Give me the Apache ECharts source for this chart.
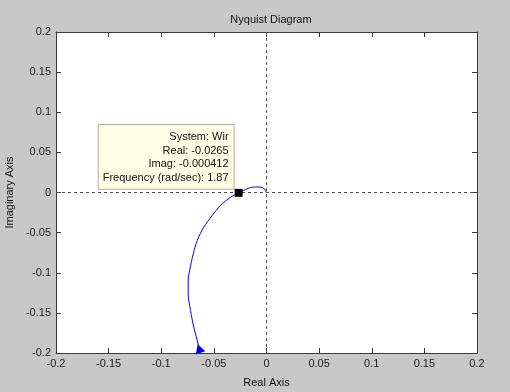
<!DOCTYPE html>
<html><head><meta charset="utf-8">
<script src="https://cdn.jsdelivr.net/npm/echarts@6/dist/echarts.min.js"></script>
<style>html,body{margin:0;padding:0;background:#c8c8c8;}#c{width:510px;height:392px;}</style>
</head><body><div id="c"></div>
<script>
var realVals = [0.0000, -0.0029, -0.0076, -0.0136, -0.0200, -0.0265, -0.0342, -0.0437, -0.0516, -0.0596, -0.0658, -0.0696, -0.0729, -0.0744, -0.0744, -0.0722, -0.0691, -0.0658, -0.0643, -0.0632];
var imagVals = [0.0000, 0.0056, 0.0069, 0.0066, 0.0037, -0.000412, -0.0059, -0.0162, -0.0287, -0.0432, -0.0598, -0.0764, -0.0963, -0.1097, -0.1262, -0.1470, -0.1679, -0.1844, -0.1935, -0.2006];
var tipPoint = [-0.0265, -0.000412];
var tipLines = ['System: Wir', 'Real: -0.0265', 'Imag: -0.000412', 'Frequency (rad/sec): 1.87'];
var arrowPoint = [-0.0640, -0.1945];
var axisMin = -0.2, axisMax = 0.2, axisStep = 0.05;

var curve = realVals.map(function(r, i){ return [r, imagVals[i]]; });
var font = 'Liberation Sans, Arial, sans-serif';
var axisCol = '#3a3a3a';
function fmt(v){ return String(Math.round(v*100)/100); }

var chart = echarts.init(document.getElementById('c'), null, {renderer:'canvas'});
function mkAxis(pos, show, extra){
  var a = {
    type:'value', position:pos, min:axisMin, max:axisMax, interval:axisStep,
    axisLine:{show:true, onZero:false, lineStyle:{color:axisCol, width:1}},
    axisTick:{show:true, inside:true, length:5, lineStyle:{color:axisCol}},
    axisLabel:{show:show, color:'#202020', fontFamily:font, fontSize:11, margin:5, formatter:fmt},
    splitLine:{show:false}
  };
  for (var k in extra) a[k] = extra[k];
  return a;
}
chart.setOption({
  backgroundColor:'#c8c8c8',
  animation:false,
  title:{text:'Nyquist Diagram', left:266, top:9, textAlign:'center',
    textStyle:{fontFamily:font, fontSize:11, fontWeight:'normal', color:'#101010'}},
  grid:{left:56, right:33, top:32, bottom:39, show:true, backgroundColor:'#ffffff', borderWidth:0,
    containLabel:false, outerBoundsMode:'none'},
  xAxis:[
    mkAxis('bottom', true, {name:'Real Axis', nameLocation:'middle', nameGap:24,
      nameTextStyle:{fontFamily:font, fontSize:11, color:'#101010'}}),
    mkAxis('top', false, {})
  ],
  yAxis:[
    mkAxis('left', true, {name:'Imaginary Axis', nameLocation:'middle', nameGap:37,
      nameTextStyle:{fontFamily:font, fontSize:11, color:'#101010'}}),
    mkAxis('right', false, {})
  ],
  series:[
    {type:'line', xAxisIndex:0, yAxisIndex:0, data:curve, smooth:0.3, showSymbol:false,
     clip:true, lineStyle:{color:'#0000e6', width:1}, silent:true,
     markLine:{silent:true, symbol:['none','none'], label:{show:false},
       lineStyle:{color:'#505050', type:[3,3], width:1},
       data:[{xAxis:0},{yAxis:0}]}},
    {type:'scatter', xAxisIndex:0, yAxisIndex:0, data:[arrowPoint], symbol:'triangle',
     symbolSize:[10,9], symbolRotate:18, itemStyle:{color:'#0000ff', opacity:1}, silent:true, z:3},
    {type:'scatter', xAxisIndex:0, yAxisIndex:0, data:[tipPoint], symbol:'rect', symbolSize:8,
     itemStyle:{color:'#000000', opacity:1}, silent:true, z:5,
     label:{show:true, position:'left', distance:1, offset:[0,-4], verticalAlign:'bottom', align:'right',
       formatter:tipLines.join('\n'), fontFamily:font, fontSize:11, lineHeight:13.7, color:'#101010',
       backgroundColor:'#ffffe6', borderColor:'#b0b0a0', borderWidth:1, padding:[5,5,4,4]}}
  ]
});
</script></body></html>
